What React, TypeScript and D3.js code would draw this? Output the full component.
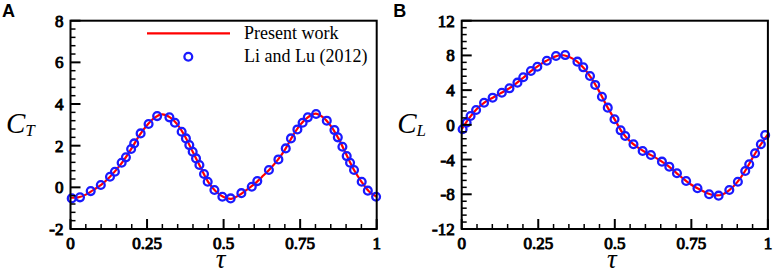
import React from "react";
import * as d3 from "d3";

// ---- Data ----
const xTicks = [0, 0.25, 0.5, 0.75, 1];
const xTickLabels = ["0", "0.25", "0.5", "0.75", "1"];
const ctTicks = [-2, 0, 2, 4, 6, 8];
const clTicks = [-12, -8, -4, 0, 4, 8, 12];

// Panel A: thrust coefficient
const ctLineTau = [0, 0.025, 0.05, 0.075, 0.1, 0.125, 0.15, 0.175, 0.2, 0.225, 0.25, 0.275, 0.3, 0.325, 0.35, 0.375, 0.4, 0.425, 0.45, 0.475, 0.5, 0.525, 0.55, 0.575, 0.6, 0.625, 0.65, 0.675, 0.7, 0.725, 0.75, 0.775, 0.8, 0.825, 0.85, 0.875, 0.9, 0.925, 0.95, 0.975, 1.0];
const ctLine = [-0.5, -0.48, -0.35, -0.12, 0.12, 0.45, 0.85, 1.32, 1.88, 2.5, 2.98, 3.35, 3.5, 3.36, 3.0, 2.42, 1.68, 0.95, 0.25, -0.2, -0.46, -0.55, -0.38, -0.12, 0.15, 0.5, 0.86, 1.28, 1.8, 2.45, 3.0, 3.36, 3.54, 3.36, 2.95, 2.35, 1.6, 0.86, 0.28, -0.2, -0.45];
const ctRefTau = [0.004, 0.031, 0.066, 0.099, 0.129, 0.145, 0.167, 0.181, 0.198, 0.208, 0.229, 0.255, 0.283, 0.323, 0.341, 0.363, 0.377, 0.388, 0.399, 0.41, 0.421, 0.436, 0.448, 0.47, 0.496, 0.523, 0.558, 0.592, 0.61, 0.648, 0.679, 0.703, 0.72, 0.741, 0.758, 0.775, 0.802, 0.837, 0.862, 0.873, 0.888, 0.902, 0.913, 0.926, 0.951, 0.971, 0.998];
const ctRef = [-0.53, -0.48, -0.18, 0.11, 0.51, 0.75, 1.18, 1.44, 1.84, 2.11, 2.59, 3.04, 3.42, 3.36, 3.1, 2.67, 2.35, 2.03, 1.71, 1.39, 1.07, 0.64, 0.27, -0.13, -0.45, -0.53, -0.28, 0.03, 0.3, 0.83, 1.34, 1.87, 2.35, 2.78, 3.1, 3.36, 3.52, 3.2, 2.75, 2.4, 1.95, 1.5, 1.18, 0.83, 0.27, -0.16, -0.45];

// Panel B: lift coefficient
const clLineTau = ctLineTau;
const clLine = [-0.5, 0.8, 1.85, 2.6, 3.1, 3.6, 4.1, 4.7, 5.4, 6.15, 6.8, 7.35, 7.8, 8.05, 7.85, 7.35, 6.5, 5.3, 3.8, 2.1, 0.6, -0.9, -1.9, -2.6, -3.15, -3.6, -4.15, -4.75, -5.5, -6.25, -6.9, -7.4, -7.85, -8.1, -8.05, -7.5, -6.6, -5.35, -3.8, -2.35, -1.1];
const clRefTau = [0.003, 0.016, 0.029, 0.047, 0.073, 0.101, 0.131, 0.156, 0.182, 0.201, 0.226, 0.247, 0.278, 0.308, 0.338, 0.378, 0.397, 0.419, 0.436, 0.458, 0.477, 0.499, 0.519, 0.534, 0.561, 0.591, 0.618, 0.654, 0.678, 0.703, 0.733, 0.77, 0.808, 0.839, 0.874, 0.902, 0.926, 0.939, 0.958, 0.977, 0.991];
const clRef = [-0.51, 0.25, 1.02, 1.71, 2.55, 3.13, 3.7, 4.21, 4.86, 5.48, 6.2, 6.7, 7.39, 7.93, 8.04, 7.28, 6.63, 5.63, 4.6, 3.24, 1.98, 0.64, -0.63, -1.28, -2.24, -3.01, -3.47, -4.24, -4.82, -5.58, -6.47, -7.31, -8.0, -8.16, -7.51, -6.55, -5.32, -4.55, -3.28, -2.24, -1.17];

const legendLabels = ["Present work", "Li and Lu (2012)"];

const RED = "#ff0000";
const BLUE = "#1a1aff";
const SERIF = "'Liberation Serif', 'Times New Roman', serif";
const SANS = "'Liberation Sans', Arial, sans-serif";

type PanelProps = {
  ox: number;
  letter: string;
  yDomain: [number, number];
  yTicks: number[];
  yMinorStep: number;
  sub: string;
  lineTau: number[];
  lineVals: number[];
  refTau: number[];
  refVals: number[];
  legend: boolean;
};

const tickText = {
  fontFamily: SERIF,
  fontSize: 17,
  fill: "#000",
  stroke: "#000",
  strokeWidth: 0.95,
} as const;

function Panel(p: PanelProps) {
  const left = p.ox + 70.5;
  const right = p.ox + 376.7;
  const top = 20.7;
  const bottom = 229;
  const x = d3.scaleLinear().domain([0, 1]).range([left, right]);
  const y = d3.scaleLinear().domain(p.yDomain).range([bottom, top]);
  const xMinor = d3.range(0, 1.0001, 0.05).filter((v) => !xTicks.some((t) => Math.abs(t - v) < 1e-6));
  const yMinor = d3
    .range(p.yDomain[0], p.yDomain[1] + 1e-6, p.yMinorStep)
    .filter((v) => !p.yTicks.some((t) => Math.abs(t - v) < 1e-6));
  const linePts: [number, number][] = p.lineTau.map((t, i) => [t, p.lineVals[i]]);
  const lineGen = d3
    .line<[number, number]>()
    .x((d) => x(d[0]))
    .y((d) => y(d[1]))
    .curve(d3.curveCatmullRom.alpha(0.5));
  const mid = (left + right) / 2;
  return (
    <g>
      <text x={p.ox + 2} y={17} fontFamily={SANS} fontWeight="bold" fontSize={18}>
        {p.letter}
      </text>
      {/* data */}
      <path d={lineGen(linePts) || ""} fill="none" stroke={RED} strokeWidth={2.2} />
      {p.refTau.map((t, i) => (
        <circle key={i} cx={x(t)} cy={y(p.refVals[i])} r={3.9} fill="none" stroke={BLUE} strokeWidth={2.3} />
      ))}
      {/* ticks */}
      {xTicks.map((t, i) => (
        <g key={"xt" + i}>
          <line x1={x(t)} x2={x(t)} y1={bottom} y2={bottom - 10} stroke="#000" strokeWidth={2} />
          <text x={x(t)} y={249} textAnchor="middle" {...tickText}>
            {xTickLabels[i]}
          </text>
        </g>
      ))}
      {xMinor.map((t, i) => (
        <line key={"xm" + i} x1={x(t)} x2={x(t)} y1={bottom} y2={bottom - 5} stroke="#000" strokeWidth={1.5} />
      ))}
      {p.yTicks.map((t, i) => (
        <g key={"yt" + i}>
          <line x1={left} x2={left + 10} y1={y(t)} y2={y(t)} stroke="#000" strokeWidth={2} />
          <text x={left - 7} y={y(t) + 6} textAnchor="end" {...tickText}>
            {t}
          </text>
        </g>
      ))}
      {yMinor.map((t, i) => (
        <line key={"ym" + i} x1={left} x2={left + 5} y1={y(t)} y2={y(t)} stroke="#000" strokeWidth={1.5} />
      ))}
      {/* frame */}
      <rect x={left} y={top} width={right - left} height={bottom - top} fill="none" stroke="#000" strokeWidth={2} />
      {/* axis titles */}
      <text x={p.ox + 6} y={133} fontFamily={SERIF} fontStyle="italic" fontSize={29}>
        C
        <tspan fontSize={17} dy={3}>
          {p.sub}
        </tspan>
      </text>
      <text x={mid - 3} y={268} textAnchor="middle" fontFamily={SERIF} fontStyle="italic" fontSize={27}>
        τ
      </text>
      {p.legend && (
        <g>
          <line x1={147} x2={230} y1={33.3} y2={33.3} stroke={RED} strokeWidth={2.2} />
          <text x={244} y={39} fontFamily={SERIF} fontSize={18}>
            {legendLabels[0]}
          </text>
          <circle cx={188.3} cy={56.7} r={3.9} fill="none" stroke={BLUE} strokeWidth={2.3} />
          <text x={244} y={62} fontFamily={SERIF} fontSize={18}>
            {legendLabels[1]}
          </text>
        </g>
      )}
    </g>
  );
}

export default function App() {
  return (
    <svg
      width={775}
      height={277}
      style={{ position: "absolute", left: 0, top: 0, background: "#fff" }}
      xmlns="http://www.w3.org/2000/svg"
    >
      <rect x={0} y={0} width={775} height={277} fill="#fff" />
      <Panel
        ox={0}
        letter="A"
        yDomain={[-2, 8]}
        yTicks={ctTicks}
        yMinorStep={0.4}
        sub="T"
        lineTau={ctLineTau}
        lineVals={ctLine}
        refTau={ctRefTau}
        refVals={ctRef}
        legend={true}
      />
      <Panel
        ox={391.2}
        letter="B"
        yDomain={[-12, 12]}
        yTicks={clTicks}
        yMinorStep={0.8}
        sub="L"
        lineTau={clLineTau}
        lineVals={clLine}
        refTau={clRefTau}
        refVals={clRef}
        legend={false}
      />
    </svg>
  );
}
